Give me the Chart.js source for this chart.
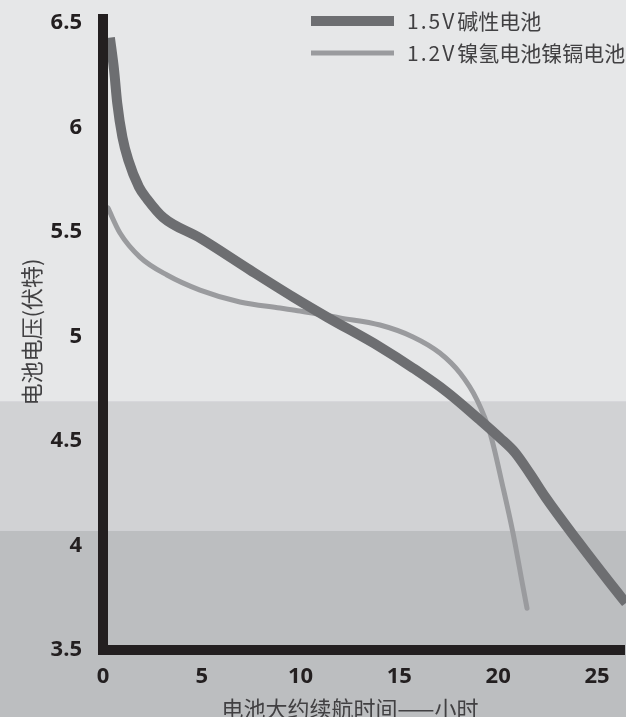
<!DOCTYPE html>
<html>
<head>
<meta charset="utf-8">
<script src="https://cdn.jsdelivr.net/npm/chart.js@4/dist/chart.umd.min.js"></script>
<style>
  html, body { margin: 0; padding: 0; background: #e6e7e8; }
  #wrap { width: 626px; height: 717px; }
</style>
</head>
<body>
<div id="wrap"><canvas id="batteryChart"></canvas></div>
<script>
// 放电曲线：小时 / 伏特
const alkalineHours = [0.35, 0.56, 0.72, 0.98, 1.28, 1.82, 2.23, 3.04, 4.91, 7.44, 9.62, 11.34, 14.02, 15.69, 17.41, 19.08, 20.09, 20.85, 21.6, 22.4, 23.99, 25.66, 26.47];
const alkalineVolts = [6.43, 6.275, 6.117, 5.955, 5.844, 5.715, 5.658, 5.57, 5.471, 5.318, 5.189, 5.093, 4.95, 4.849, 4.734, 4.60, 4.515, 4.445, 4.345, 4.23, 4.026, 3.821, 3.725];
const nimhHours = [0.25, 0.86, 1.87, 3.24, 4.91, 6.93, 8.96, 9.97, 11.99, 14.02, 15.69, 17.05, 18.07, 18.93, 19.59, 20.24, 20.75, 21.26, 21.46];
const nimhVolts = [5.615, 5.495, 5.38, 5.294, 5.222, 5.165, 5.136, 5.122, 5.089, 5.055, 4.998, 4.921, 4.825, 4.696, 4.538, 4.28, 4.06, 3.80, 3.70];

const seriesLabels = ["1.5V碱性电池", "1.2V镍氢电池镍镉电池"];
const xTitle = "电池大约续航时间——小时";
const yTitle = "电池电压(伏特)";
const xTicks = [0, 5, 10, 15, 20, 25];
const yTicks = [3.5, 4, 4.5, 5, 5.5, 6, 6.5];
const bandLevels = [4.69, 4.07];
const bandColors = ["#e6e7e8", "#d1d2d4", "#bcbec0"];

const toPoints = (xs, ys) => xs.map((x, i) => ({ x, y: ys[i] }));

// 背景色带
const bandsPlugin = {
  id: "bands",
  beforeDraw(chart) {
    const { ctx, width, height, scales } = chart;
    const edges = [0, ...bandLevels.map((v) => scales.y.getPixelForValue(v)), height];
    ctx.save();
    bandColors.forEach((c, i) => {
      ctx.fillStyle = c;
      ctx.fillRect(0, edges[i], width, edges[i + 1] - edges[i]);
    });
    ctx.restore();
  },
};

// 粗黑坐标轴
const axesPlugin = {
  id: "axisLines",
  afterDatasetsDraw(chart) {
    const { ctx, chartArea: a } = chart;
    const w = 10;
    ctx.save();
    ctx.fillStyle = "#231f20";
    ctx.fillRect(a.left - w / 2, a.top, w, a.bottom - a.top + w / 2);
    ctx.fillRect(a.left - w / 2, a.bottom - w / 2, a.right - a.left + w / 2 - 1, w);
    ctx.restore();
  },
};

// 图例 + 横轴标题
const legendPlugin = {
  id: "cornerLegend",
  afterDraw(chart) {
    const { ctx } = chart;
    ctx.save();
    ctx.font = '21px "Noto Sans CJK SC"';
    ctx.textBaseline = "middle";
    chart.data.datasets.forEach((ds, i) => {
      const y = 21 + i * 32;
      ctx.fillStyle = ds.borderColor;
      ctx.fillRect(311, y - ds.borderWidth / 2, 83, ds.borderWidth);
      ctx.fillStyle = "#414042";
      const [, head, rest] = ds.label.match(/^([\x00-\x7f]*)(.*)$/);
      ctx.letterSpacing = "2px";
      ctx.fillText(head, 407, y);
      const w = ctx.measureText(head).width;
      ctx.letterSpacing = "0px";
      ctx.fillText(rest, 407 + w + 1, y);
    });
    ctx.font = '22px "Noto Sans CJK SC"';
    ctx.textAlign = "center";
    ctx.fillStyle = "#414042";
    ctx.fillText(xTitle, 350, 708.5);
    ctx.restore();
  },
};

const tickFont = { family: "'Open Sans'", weight: "bold", size: 22 };

new Chart(document.getElementById("batteryChart"), {
  type: "line",
  data: {
    datasets: [
      {
        label: seriesLabels[0],
        data: toPoints(alkalineHours, alkalineVolts),
        borderColor: "#6d6e71",
        borderWidth: 10,
        borderCapStyle: "butt",
      },
      {
        label: seriesLabels[1],
        data: toPoints(nimhHours, nimhVolts),
        borderColor: "#9a9b9e",
        borderWidth: 5,
        borderCapStyle: "round",
      },
    ],
  },
  options: {
    responsive: true,
    maintainAspectRatio: false,
    animation: false,
    layout: { padding: { top: 14, left: 0, right: 0, bottom: 0 } },
    elements: {
      point: { radius: 0 },
      line: { cubicInterpolationMode: "monotone", fill: false },
    },
    plugins: { legend: { display: false }, tooltip: { enabled: false } },
    scales: {
      x: {
        type: "linear",
        min: 0,
        max: 26.47,
        grid: { display: false, drawTicks: false },
        border: { display: false },
        afterBuildTicks: (s) => { s.ticks = xTicks.map((v) => ({ value: v })); },
        afterFit: (s) => { s.height = 67; s.paddingLeft = 0; s.paddingRight = 0; },
        ticks: { padding: 14, color: "#231f20", font: tickFont, maxRotation: 0 },
      },
      y: {
        type: "linear",
        min: 3.5,
        max: 6.543,
        grid: { display: false, drawTicks: false },
        border: { display: false },
        afterBuildTicks: (s) => { s.ticks = yTicks.map((v) => ({ value: v })); },
        afterFit: (s) => { s.width = 103; s.paddingTop = 0; s.paddingBottom = 0; },
        ticks: { padding: 21, color: "#231f20", font: tickFont, callback: (v) => String(v) },
        title: {
          display: true,
          text: yTitle,
          color: "#414042",
          font: { family: "'Noto Sans CJK SC'", size: 22, lineHeight: 1 },
          padding: { top: 21, bottom: 0 },
        },
      },
    },
  },
  plugins: [bandsPlugin, axesPlugin, legendPlugin],
});
</script>
</body>
</html>
